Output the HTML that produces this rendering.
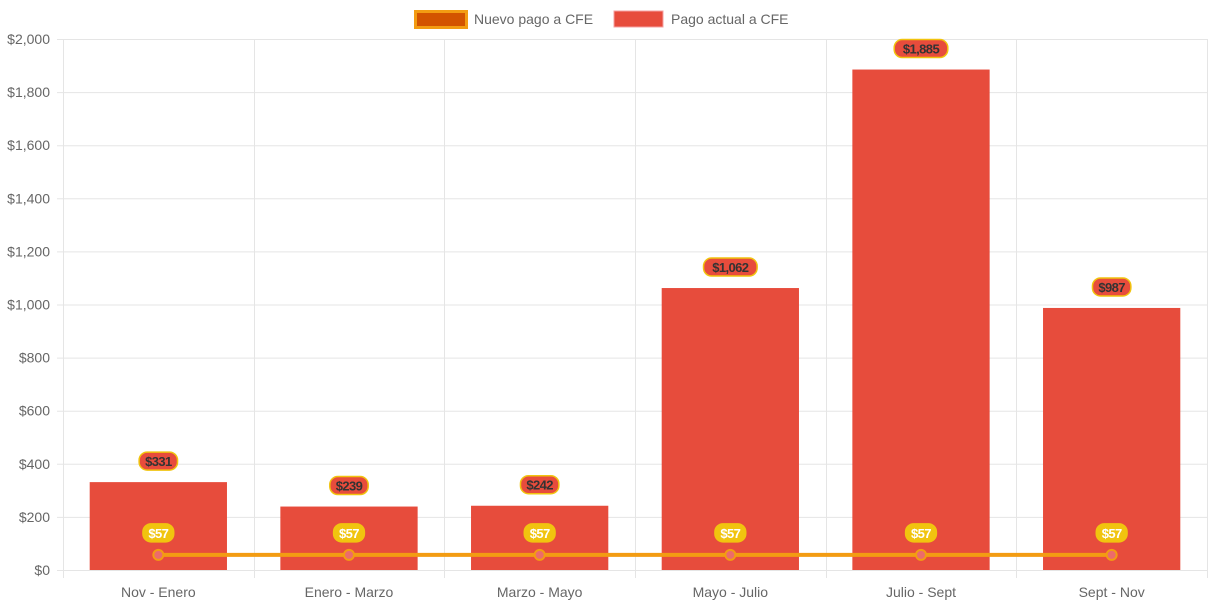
<!DOCTYPE html>
<html><head><meta charset="utf-8"><style>
body{margin:0;background:#fff;font-family:"Liberation Sans",sans-serif}
svg{display:block}
</style></head><body>
<svg id="c" width="1213" height="606">
<g font-size="14" fill="#666">
<g><rect x="415.5" y="11.5" width="51" height="16" fill="#d35400" stroke="#f39c12" stroke-width="3"/><text x="474" y="24">Nuevo pago a CFE</text></g>
<g><rect x="614" y="11" width="49" height="16" fill="#e74c3c" stroke="#f5a0a0" stroke-width="1"/><text x="671" y="24">Pago actual a CFE</text></g>
</g>
<g id="grid"></g>
<g id="bars"></g>
<g id="line"></g>
<g id="labels"></g>
</svg>
<script>
const categories=["Nov - Enero","Enero - Marzo","Marzo - Mayo","Mayo - Julio","Julio - Sept","Sept - Nov"];
const actual=[331,239,242,1062,1885,987];
const nuevo=[57,57,57,57,57,57];
const yTicks=[0,200,400,600,800,1000,1200,1400,1600,1800,2000];
const L=63,R=1207,T=39,B=570,YMAX=2000;
const NS="http://www.w3.org/2000/svg";
const y=v=>B-(v/YMAX)*(B-T);
const bw=(R-L)/categories.length;
const xc=i=>L+bw*(i+0.5);
function mk(tag,attrs,parent,txt){const e=document.createElementNS(NS,tag);for(const k in attrs)e.setAttribute(k,attrs[k]);if(txt!==undefined)e.textContent=txt;parent.appendChild(e);return e;}
const grid=document.getElementById('grid');
yTicks.forEach(v=>{
 const l=mk('line',{x1:L-6,x2:R,y1:y(v)+0.5,y2:y(v)+0.5,stroke:'#e5e5e5'},grid);
 
 
 const t=mk('text',{x:L-13,y:y(v)+5,'text-anchor':'end','font-size':14,fill:'#666'},grid,'$'+v.toLocaleString('en-US'));
 
 
});
for(let i=0;i<=categories.length;i++){
 const x=Math.round(L+bw*i)+0.5;
 const l=mk('line',{x1:x,x2:x,y1:T,y2:B+8,stroke:'#e5e5e5'},grid);
 
 
}
categories.forEach((c,i)=>{
 const t=mk('text',{x:xc(i),y:597,'text-anchor':'middle','font-size':14,fill:'#666'},grid,c);
 
 
});
const bars=document.getElementById('bars');
const barW=bw*0.72;
actual.forEach((v,i)=>{
 const r=mk('rect',{x:xc(i)-barW/2,y:y(v),width:barW,height:B-y(v),fill:'#e74c3c'},bars);
 
 
});
const line=document.getElementById('line');
const pl=mk('polyline',{points:nuevo.map((v,i)=>xc(i)+','+y(v)).join(' '),fill:'none',stroke:'#f39c12','stroke-width':4},line);


nuevo.forEach((v,i)=>{
 const c=mk('circle',{cx:xc(i),cy:y(v),r:5,fill:'#ec6b6b',stroke:'#f39c12','stroke-width':2},line);
 
 
});
const labels=document.getElementById('labels');
function pill(cx,cy,txt,fill,stroke,color){
 const w=txt.length*7.6+8;
 const g=mk('g',{},labels);
 
 
 mk('rect',{x:cx-w/2,y:cy-9,width:w,height:18,rx:8,fill:fill,stroke:stroke,'stroke-width':1.5},g);
 mk('text',{x:cx,y:cy+5,'text-anchor':'middle','font-size':13,'font-weight':'bold',fill:color,'letter-spacing':'-0.6'},g,txt);
}
actual.forEach((v,i)=>pill(xc(i),y(v)-21,'$'+v.toLocaleString('en-US'),'#e74c3c','#f1c40f','#333'));
nuevo.forEach((v,i)=>pill(xc(i),y(v)-22,'$'+v.toLocaleString('en-US'),'#f1c40f','#f1c40f','#fff'));
</script>
</body></html>
